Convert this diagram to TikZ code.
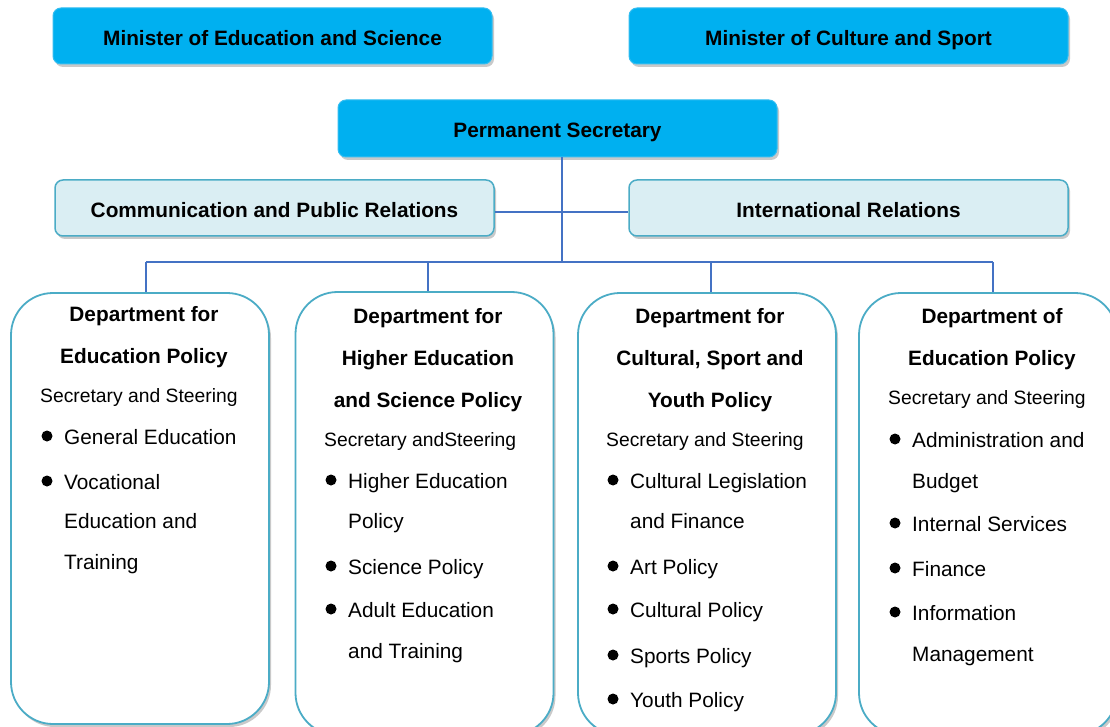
\documentclass[tikz,border=0pt]{standalone}
\usepackage{fontspec}
\setmainfont{Liberation Sans}
\usetikzlibrary{shadows}
\definecolor{cyanbox}{HTML}{00B0F0}
\definecolor{cyanedge}{HTML}{33BDF0}
\definecolor{lightbox}{HTML}{DAEEF3}
\definecolor{tealline}{HTML}{4BACC6}
\definecolor{connline}{HTML}{4472C4}
\newcommand\itm[5]{\fill (#2,#4-1) circle (5.5pt); \node[itemtxt] (#1) at (#3,#4+7) {#5};}
\newcommand\cnt[4]{\node[itemtxt] (#1) at (#2,#3+7) {#4};}
\begin{document}
\begin{tikzpicture}[x=1pt,y=-1pt,
  shad/.style={drop shadow={shadow xshift=2pt,shadow yshift=-3pt,opacity=.35,fill=black!60}},
  topbox/.style={shad,draw=cyanedge,line width=1pt,fill=cyanbox,rounded corners=8pt,minimum width=439pt,minimum height=56pt,inner sep=0pt,text height=18.5pt,text depth=0pt,font=\bfseries\fontsize{20.8}{25}\selectfont},
  subbox/.style={shad,draw=tealline,line width=1.5pt,fill=lightbox,rounded corners=8pt,minimum width=439pt,minimum height=56pt,inner sep=0pt,text height=18.5pt,text depth=0pt,font=\bfseries\fontsize{20.8}{25}\selectfont},
  deptbox/.style={shad,draw=tealline,line width=1.8pt,fill=white,rounded corners=42pt,minimum width=258pt,inner sep=0pt},
  hdr/.style={anchor=base,inner sep=0pt,font=\bfseries\fontsize{20.8}{25}\selectfont},
  sectxt/.style={anchor=base west,inner sep=0pt,font=\fontsize{19.3}{23}\selectfont},
  itemtxt/.style={anchor=base west,inner sep=0pt,font=\fontsize{20.8}{25}\selectfont},
  conn/.style={draw=connline,line width=1.4pt}]
\useasboundingbox (0,0) rectangle (1110,727);
\clip (0,0) rectangle (1110,727);
\fill[white] (0,0) rectangle (1110,727);

% top level
\node[topbox] (mes) at (272.5,36) {Minister of Education and Science};
\node[topbox] (mcs) at (848.5,36) {Minister of Culture and Sport};
\node[topbox,minimum height=57pt] (ps) at (557.5,128.5) {Permanent Secretary};
\node[subbox] (cpr) at (274.5,208) {Communication and Public Relations};
\node[subbox] (ir) at (848.5,208) {International Relations};

% connectors
\coordinate (hub) at (562,262);
\coordinate (dA) at (146,262);
\coordinate (dB) at (428,262);
\coordinate (dC) at (711,262);
\coordinate (dD) at (993,262);
\draw[conn] ([yshift=-4pt]cpr.east) -- ([yshift=-4pt]ir.west);
\draw[conn] (ps.south -| hub) -- (hub);
\draw[conn] (dA) -- (dD);

% department boxes
\node[deptbox,minimum height=431pt] (deptA) at (140,508.5) {};
\node[deptbox,minimum height=443pt] (deptB) at (424.5,513.5) {};
\node[deptbox,minimum height=442pt] (deptC) at (707,514) {};
\node[deptbox,minimum height=442pt] (deptD) at (988,514) {};
\draw[conn] (dA) -- (dA |- deptA.north);
\draw[conn] (dB) -- (dB |- deptB.north);
\draw[conn] (dC) -- (dC |- deptC.north);
\draw[conn] (dD) -- (dD |- deptD.north);

% box A
\node[hdr] (a1) at (144,321) {Department for};
\node[hdr] (a2) at (144,363) {Education Policy};
\node[sectxt] (a3) at (40,402) {Secretary and Steering};
\itm{a4}{47}{64}{437}{General Education}
\itm{a5}{47}{64}{482}{Vocational}
\cnt{a6}{64}{521}{Education and}
\cnt{a7}{64}{562}{Training}

% box B
\node[hdr] (b1) at (428,323) {Department for};
\node[hdr] (b2) at (428,365) {Higher Education};
\node[hdr] (b3) at (428,407) {and Science Policy};
\node[sectxt] (b4) at (324,446) {Secretary andSteering};
\itm{b5}{331}{348}{481}{Higher Education}
\cnt{b6}{348}{521}{Policy}
\itm{b7}{331}{348}{567}{Science Policy}
\itm{b8}{331}{348}{610}{Adult Education}
\cnt{b9}{348}{651}{and Training}

% box C
\node[hdr] (c1) at (710,323) {Department for};
\node[hdr] (c2) at (710,365) {Cultural, Sport and};
\node[hdr] (c3) at (710,407) {Youth Policy};
\node[sectxt] (c4) at (606,446) {Secretary and Steering};
\itm{c5}{613}{630}{481}{Cultural Legislation}
\cnt{c6}{630}{521}{and Finance}
\itm{c7}{613}{630}{567}{Art Policy}
\itm{c8}{613}{630}{610}{Cultural Policy}
\itm{c9}{613}{630}{656}{Sports Policy}
\itm{c10}{613}{630}{700}{Youth Policy}

% box D
\node[hdr] (d1) at (992,323) {Department of};
\node[hdr] (d2) at (992,365) {Education Policy};
\node[sectxt] (d3) at (888,404) {Secretary and Steering};
\itm{d4}{895}{912}{440}{Administration and}
\cnt{d5}{912}{481}{Budget}
\itm{d6}{895}{912}{524}{Internal Services}
\itm{d7}{895}{912}{569}{Finance}
\itm{d8}{895}{912}{613}{Information}
\cnt{d9}{912}{654}{Management}
\end{tikzpicture}
\end{document}
